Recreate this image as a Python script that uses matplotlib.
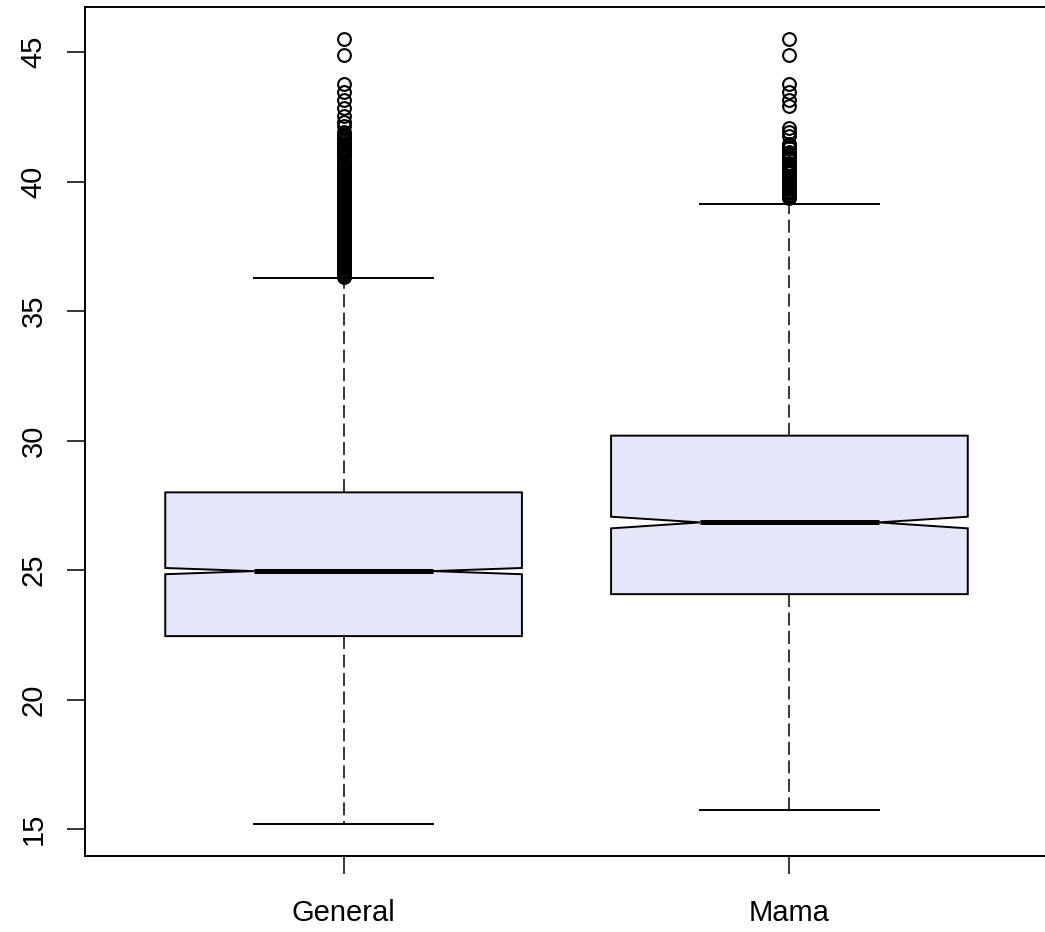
import matplotlib.pyplot as plt

plt.rcParams['font.family'] = ['Liberation Sans', 'DejaVu Sans']

groups = ['General', 'Mama']

# five-number summaries and notch limits
whis_lo = [15.18, 15.73]
q1 = [22.45, 24.07]
median = [24.96, 26.84]
q3 = [28.00, 30.19]
whis_hi = [36.27, 39.13]
ci_lo = [24.84, 26.61]
ci_hi = [25.08, 27.06]

general_out = [
    36.30, 36.35, 36.40, 36.45, 36.50, 36.55, 36.60, 36.65, 36.70, 36.75,
    36.80, 36.85, 36.90, 36.95, 37.00, 37.05, 37.10, 37.15, 37.20, 37.25,
    37.30, 37.35, 37.40, 37.45, 37.50, 37.55, 37.60, 37.65, 37.70, 37.75,
    37.80, 37.85, 37.90, 37.95, 38.00, 38.05, 38.10, 38.15, 38.20, 38.25,
    38.30, 38.35, 38.40, 38.45, 38.50, 38.55, 38.60, 38.65, 38.70, 38.75,
    38.80, 38.85, 38.90, 38.95, 39.00, 39.05, 39.10, 39.15, 39.20, 39.25,
    39.30, 39.35, 39.40, 39.45, 39.50, 39.55, 39.60, 39.65, 39.70, 39.75,
    39.80, 39.85, 39.90, 39.95, 40.00, 40.05, 40.10, 40.15, 40.20, 40.25,
    40.30, 40.35, 40.40, 40.45, 40.50, 40.55, 40.60, 40.65, 40.70, 40.75,
    40.80, 40.95, 41.00, 41.05, 41.10, 41.15, 41.20, 41.25, 41.30, 41.35,
    41.40, 41.45, 41.50, 41.55, 41.60, 41.65, 41.70, 41.75, 41.80, 41.85,
    41.90, 42.15, 42.30, 42.55, 42.85, 43.15, 43.45, 43.75, 44.90, 45.50,
]
mama_out = [
    39.35, 39.40, 39.45, 39.50, 39.55, 39.60, 39.65, 39.70, 39.75, 39.80,
    39.85, 39.90, 39.95, 40.00, 40.05, 40.10, 40.15, 40.20, 40.35, 40.40,
    40.45, 40.50, 40.55, 40.60, 40.65, 40.70, 40.85, 40.90, 40.95, 41.00,
    41.05, 41.10, 41.15, 41.30, 41.35, 41.40, 41.45, 41.75, 41.90, 42.05,
    42.90, 43.15, 43.45, 43.75, 44.90, 45.50,
]
outliers = [general_out, mama_out]

stats = []
for i, name in enumerate(groups):
    stats.append(dict(label=name, whislo=whis_lo[i], q1=q1[i], med=median[i],
                      q3=q3[i], whishi=whis_hi[i], cilo=ci_lo[i],
                      cihi=ci_hi[i], fliers=outliers[i]))

fig = plt.figure(figsize=(10.45, 9.32), dpi=100)
ax = fig.add_axes([85 / 1045, 76 / 932, 963 / 1045, 849 / 932])

ax.bxp(stats, positions=[1, 2], widths=0.8, shownotches=True,
       patch_artist=True,
       boxprops=dict(facecolor='lavender', edgecolor='black', linewidth=1.4),
       medianprops=dict(color='black', linewidth=3.6, solid_capstyle='butt'),
       whiskerprops=dict(color='black', linewidth=1.1,
                         linestyle=(0, (8.5, 3.6))),
       capprops=dict(color='black', linewidth=1.4),
       flierprops=dict(marker='o', markerfacecolor='none',
                       markeredgecolor='black', markersize=9.2,
                       markeredgewidth=1.5))

ax.set_xlim(0.42, 2.58)
ax.set_ylim(13.96, 46.74)
ax.set_yticks([15, 20, 25, 30, 35, 40, 45])

for side in ['left', 'bottom', 'top', 'right']:
    ax.spines[side].set_linewidth(1.4)

ax.tick_params(axis='both', length=13, width=1.1, labelsize=21)
ax.tick_params(axis='x', pad=18)
ax.tick_params(axis='y', pad=14, labelrotation=90)
for lab in ax.get_yticklabels():
    lab.set_va('center')

fig.savefig('out.png', dpi=100)
